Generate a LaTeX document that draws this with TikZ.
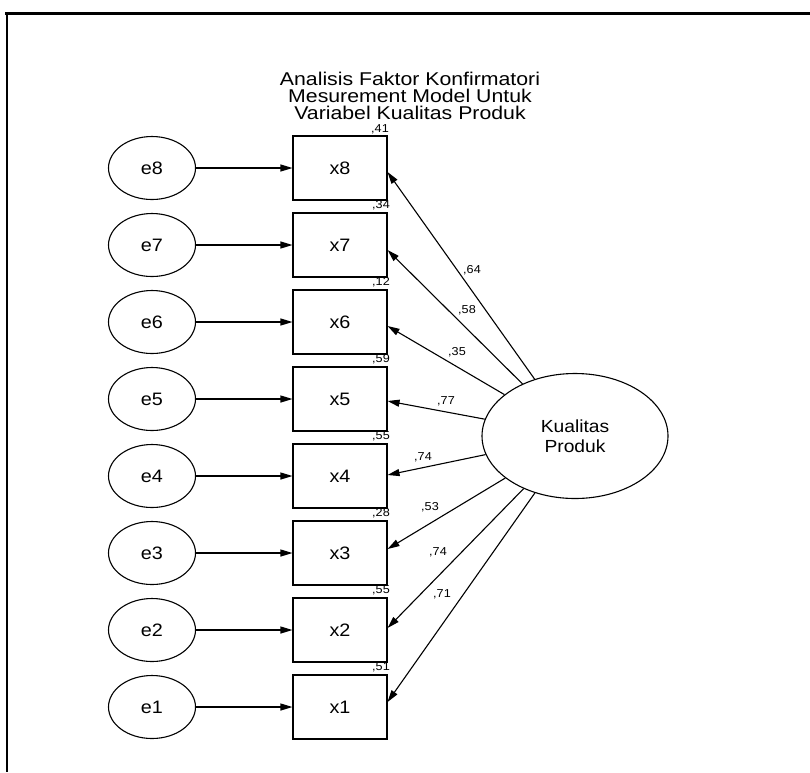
\documentclass[tikz,border=0pt]{standalone}
\usepackage{fontspec}
\setmainfont{Liberation Sans}[FakeStretch=1.1]
\newfontfamily\titlefont{Liberation Sans}[FakeStretch=1.15]
\usetikzlibrary{arrows.meta,shapes.geometric}
\begin{document}
\begin{tikzpicture}[x=1pt,y=-1pt,
  err/.style={ellipse,draw,line width=1.1pt,minimum width=87pt,minimum height=63pt,inner sep=0pt,font=\fontsize{18}{18}\selectfont},
  obs/.style={rectangle,draw,line width=1.1pt,minimum width=94pt,minimum height=64pt,inner sep=0pt,font=\fontsize{18}{18}\selectfont},
  lat/.style={ellipse,draw,line width=1.1pt,minimum width=186pt,minimum height=125pt,inner sep=0pt,align=center,font=\fontsize{17.5}{20}\selectfont},
  arr/.style={line width=1.1pt,-{Triangle[length=12pt,width=7pt]}},
  lab/.style={font=\fontsize{11.5}{12}\selectfont,inner sep=0pt},
  ttl/.style={align=center,inner sep=0pt,font=\titlefont\fontsize{18.5}{16.7}\selectfont}]
\useasboundingbox (0,0) rectangle (810,772);
\draw[line width=3pt] (5,13) -- (810,13);
\draw[line width=2.5pt] (7,12) -- (7,772);
\node[ttl] (title) at (410,96) {Analisis Faktor Konfirmatori\\Mesurement Model Untuk\\Variabel Kualitas Produk};
\foreach \i/\yy in {8/168,7/245,6/322,5/399,4/476,3/553,2/630,1/707}{
  \node[err] (e\i) at (152,\yy) {e\i};
  \node[obs] (x\i) at (340,\yy) {x\i};
  \draw[arr] (e\i) -- (x\i);
}
\node[lat] (K) at (575,436) {Kualitas\\Produk};
\foreach \i/\s in {8/-4,7/-5,6/-4,5/-2,4/1,3/4,2/2,1/5}{
  \draw[arr] (K) -- ([yshift=\s pt]x\i.east);
}
\node[lab] (l8) at (472,270) {,64};
\node[lab] (l7) at (467,310) {,58};
\node[lab] (l6) at (457,352) {,35};
\node[lab] (l5) at (446,401) {,77};
\node[lab] (l4) at (423,457) {,74};
\node[lab] (l3) at (430,507) {,53};
\node[lab] (l2) at (438,552) {,74};
\node[lab] (l1) at (442,594) {,71};
\node[lab] (r8) at (380,129) {,41};
\node[lab] (r7) at (381,205) {,34};
\node[lab] (r6) at (381,282) {,12};
\node[lab] (r5) at (381,359) {,59};
\node[lab] (r4) at (381,436) {,55};
\node[lab] (r3) at (381,513) {,28};
\node[lab] (r2) at (381,590) {,55};
\node[lab] (r1) at (381,667) {,51};
\end{tikzpicture}
\end{document}
